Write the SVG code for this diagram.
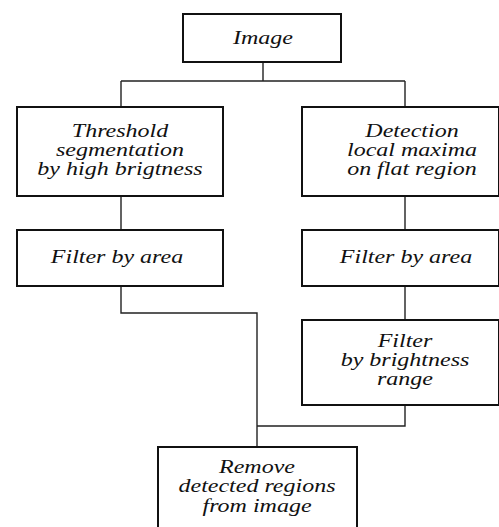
<svg xmlns="http://www.w3.org/2000/svg" width="499" height="527" viewBox="0 0 499 527">
<style>
.box{fill:#fff;stroke:#111;stroke-width:2}
.lbl{font-style:italic;font-size:24px;fill:#111;text-anchor:middle}
.con{fill:none;stroke:#222;stroke-width:1.4}
</style>
<rect width="499" height="527" fill="#fff"/>
<g id="connectors">
<path class="con" d="M263 62V81M121 81H405M121 81V107M405 81V107"/>
<path class="con" d="M121 196V230M405 196V230M405 286V320"/>
<path class="con" d="M121 286V313H257V447M405 405V426H257"/>
</g>
<g font-family="Liberation Serif, Times New Roman, serif">
<g id="image">
<rect class="box" x="183" y="14" width="158" height="48"/>
<text class="lbl" transform="translate(263,44.3) scale(1,0.78)">Image</text>
</g>
<g id="threshold">
<rect class="box" x="17" y="107" width="206" height="89"/>
<text class="lbl" transform="translate(120,136.5) scale(1,0.78)"><tspan x="0" y="0">Threshold</tspan><tspan x="0" dy="25">segmentation</tspan><tspan x="0" dy="25">by high brigtness</tspan></text>
</g>
<g id="detection">
<rect class="box" x="302" y="107" width="197" height="89"/>
<text class="lbl" transform="translate(412,136.5) scale(1,0.78)"><tspan x="0" y="0">Detection</tspan><tspan x="0" dy="25">local maxima</tspan><tspan x="0" dy="25">on flat region</tspan></text>
</g>
<g id="filter-area-left">
<rect class="box" x="17" y="230" width="206" height="56"/>
<text class="lbl" transform="translate(117,263) scale(1,0.78)">Filter by area</text>
</g>
<g id="filter-area-right">
<rect class="box" x="302" y="230" width="197" height="56"/>
<text class="lbl" transform="translate(406,263) scale(1,0.78)">Filter by area</text>
</g>
<g id="filter-brightness">
<rect class="box" x="302" y="320" width="197" height="85"/>
<text class="lbl" transform="translate(405,346.5) scale(1,0.78)"><tspan x="0" y="0">Filter</tspan><tspan x="0" dy="25">by brightness</tspan><tspan x="0" dy="25">range</tspan></text>
</g>
<g id="remove">
<rect class="box" x="158" y="447" width="199" height="86"/>
<text class="lbl" transform="translate(257,473) scale(1,0.78)"><tspan x="0" y="0">Remove</tspan><tspan x="0" dy="25">detected regions</tspan><tspan x="0" dy="25">from image</tspan></text>
</g>
</g>
</svg>
